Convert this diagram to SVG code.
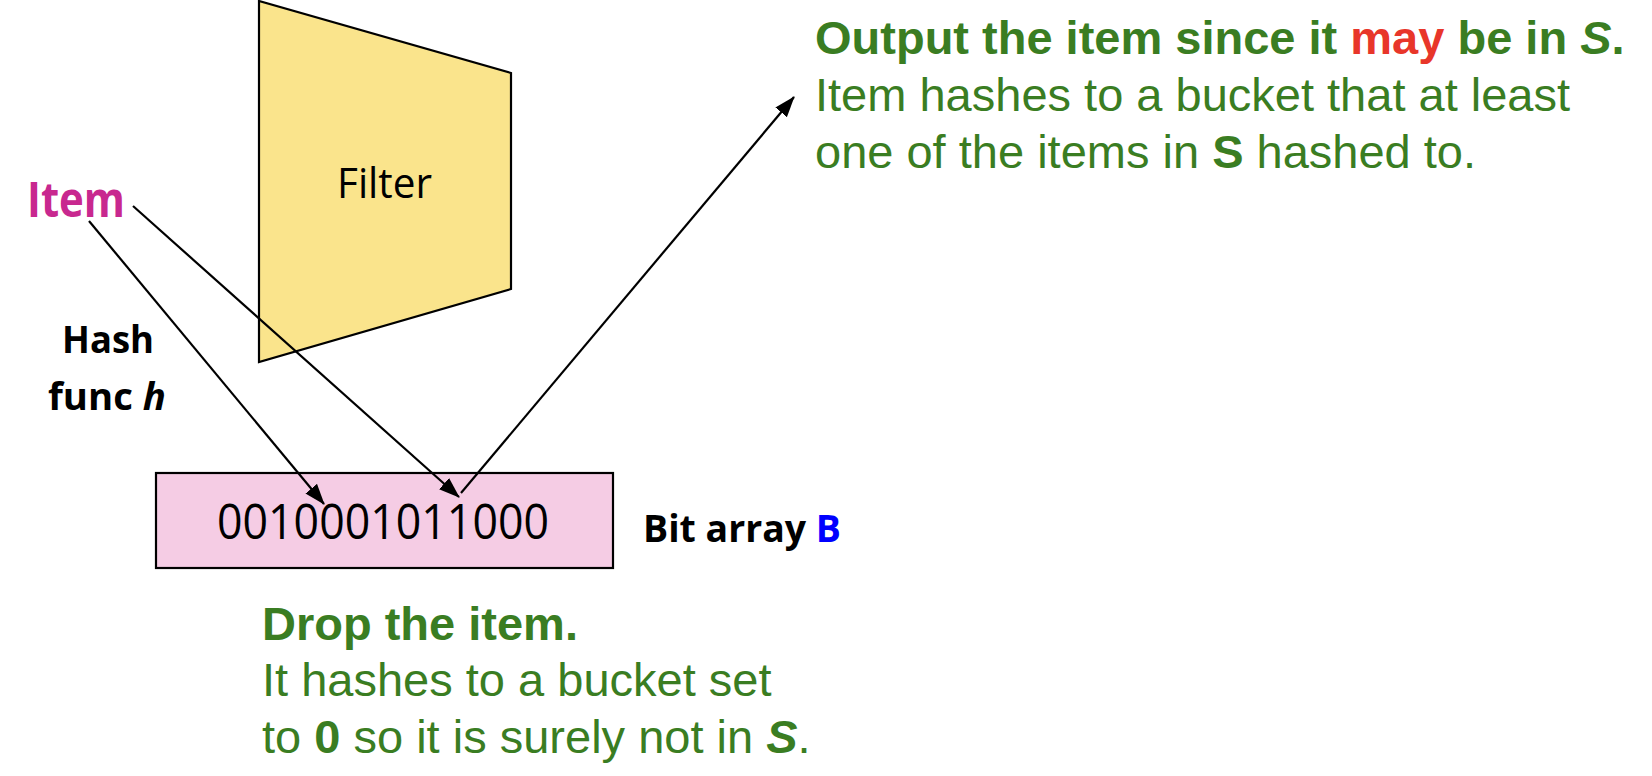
<svg xmlns="http://www.w3.org/2000/svg" width="1652" height="776" viewBox="0 0 1652 776">
<style>
.cal{font-family:"Open Sans","Liberation Sans",sans-serif;fill:#000}
.ar{font-family:"Liberation Sans",Arial,sans-serif;fill:#3A7D22;font-size:47px}
.b{font-weight:bold}
.i{font-style:italic}
.conn{stroke:#000;stroke-width:2.2;fill:none;marker-end:url(#ah)}
</style>
<defs>
<marker id="ah" markerUnits="userSpaceOnUse" markerWidth="22" markerHeight="16" refX="20" refY="7.5" orient="auto">
<path d="M0,0 L21,7.5 L0,15 z" fill="#000"/>
</marker>
</defs>
<rect width="1652" height="776" fill="#fff"/>
<g id="filter">
<polygon points="259,1 511,73 511,289 259,362" fill="#FAE48C" stroke="#000" stroke-width="2.2"/>
<text class="cal" x="337" y="198" font-size="42" textLength="95" lengthAdjust="spacingAndGlyphs">Filter</text>
</g>
<g id="bitarray">
<rect x="156" y="473" width="457" height="95" fill="#F5CCE4" stroke="#000" stroke-width="2.2"/>
<text class="cal" x="217" y="539" font-size="49" textLength="332" lengthAdjust="spacingAndGlyphs">0010001011000</text>
</g>
<g id="item">
<text class="cal b" x="27" y="217" font-size="49" style="fill:#C8288F" textLength="98" lengthAdjust="spacingAndGlyphs">Item</text>
</g>
<g id="hashfunc">
<text class="cal b" x="62" y="353" font-size="37" textLength="92" lengthAdjust="spacingAndGlyphs">Hash</text>
<text class="cal b" x="48" y="410" font-size="37" textLength="118" lengthAdjust="spacingAndGlyphs">func <tspan class="i">h</tspan></text>
</g>
<g id="bitarraylabel">
<text class="cal b" x="643" y="542" font-size="38" textLength="198" lengthAdjust="spacingAndGlyphs">Bit array <tspan style="fill:#0000FF">B</tspan></text>
</g>
<g id="output">
<text class="ar b" x="815" y="54">Output the item since it <tspan style="fill:#E8362A">may</tspan> be in <tspan class="i">S</tspan>.</text>
<text class="ar" x="815" y="111">Item hashes to a bucket that at least</text>
<text class="ar" x="815" y="168">one of the items in <tspan class="b">S</tspan> hashed to.</text>
</g>
<g id="drop">
<text class="ar b" x="262" y="640">Drop the item.</text>
<text class="ar" x="262" y="696">It hashes to a bucket set</text>
<text class="ar" x="262" y="753">to <tspan class="b">0</tspan> so it is surely not in <tspan class="b i">S</tspan>.</text>
</g>
<g id="connectors">
<line class="conn" x1="89" y1="221" x2="324" y2="504"/>
<line class="conn" x1="133" y1="206" x2="459" y2="497"/>
<line class="conn" x1="461" y1="493" x2="794" y2="97"/>
</g>
</svg>
